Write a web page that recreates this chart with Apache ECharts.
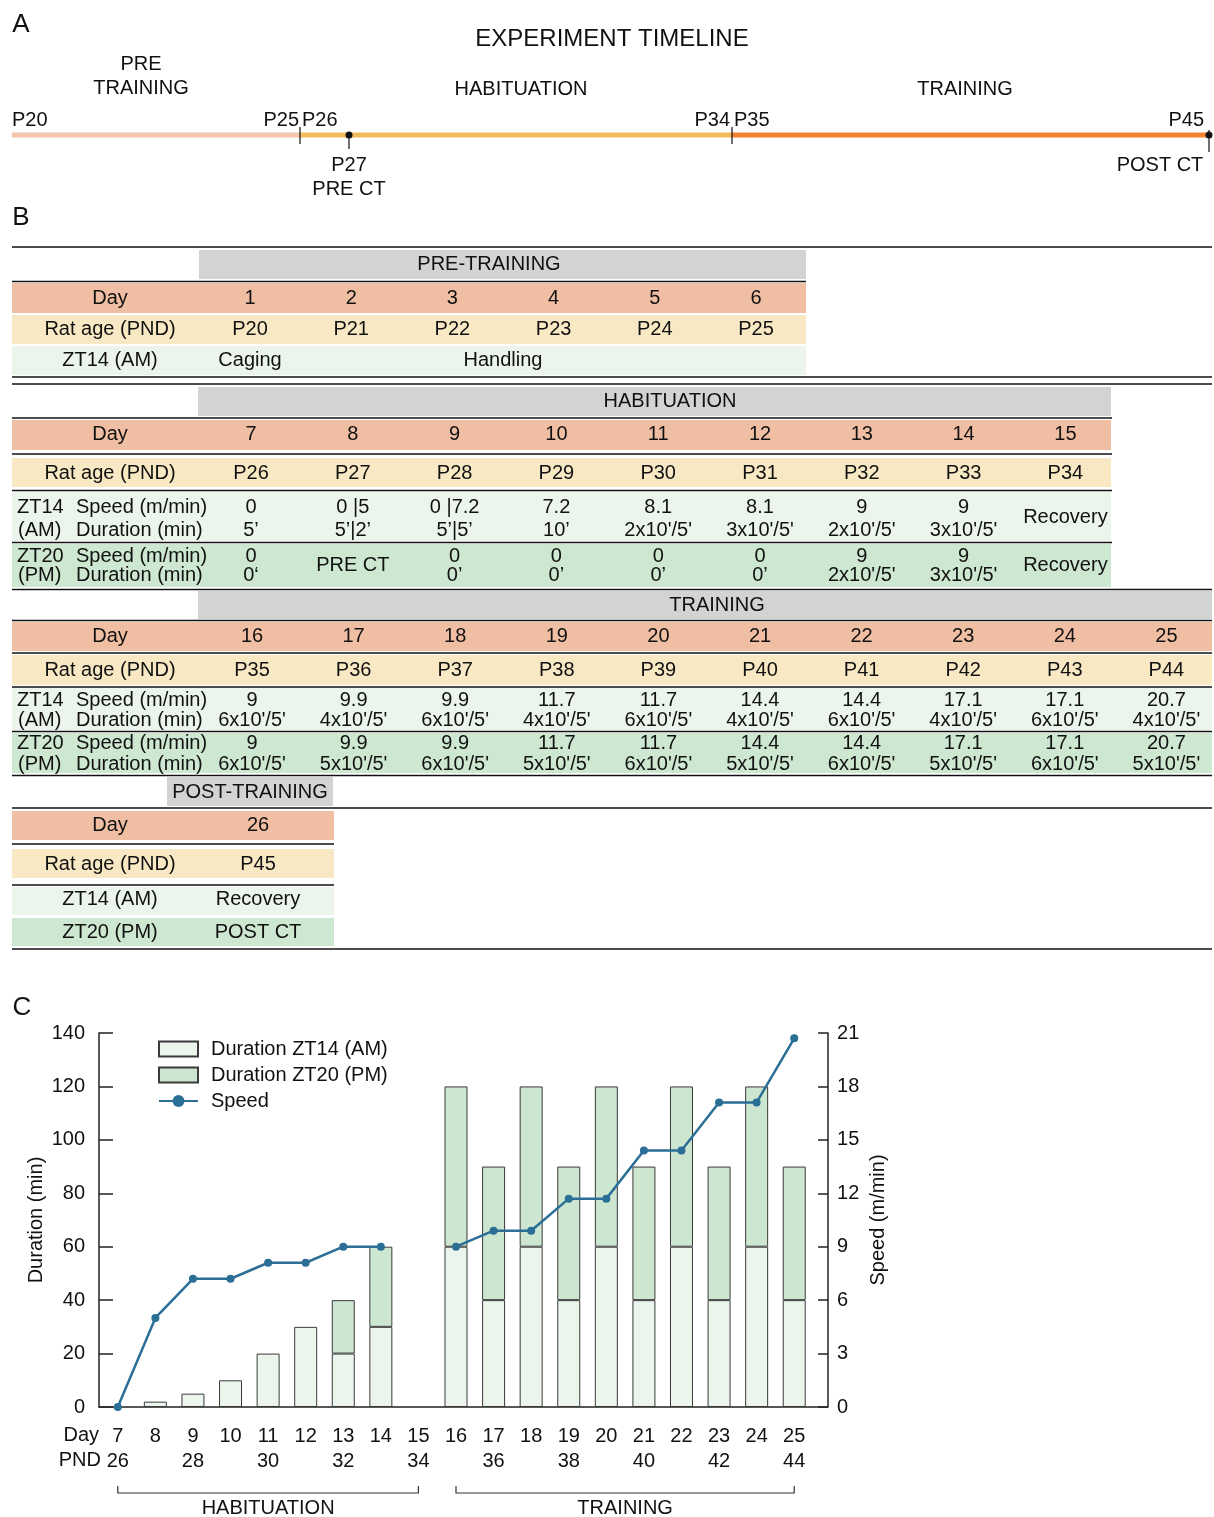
<!DOCTYPE html>
<html>
<head>
<meta charset="utf-8">
<script src="https://cdn.jsdelivr.net/npm/echarts@6/dist/echarts.min.js"></script>
<style>
  html, body { margin: 0; padding: 0; background: #fff; }
  #chart { width: 1214px; height: 1517px; }
</style>
</head>
<body>
<div id="chart"></div>
<script>
// ---- A: timeline ----
const timelineTitle = 'EXPERIMENT TIMELINE';
const timelinePhases = ['PRE\nTRAINING', 'HABITUATION', 'TRAINING'];
const timelineAges = ['P20', 'P25', 'P26', 'P34', 'P35', 'P45'];
const timelineEvents = ['P27\nPRE CT', 'POST CT'];

// ---- B: tables ----
const rowLabels = ['Day', 'Rat age (PND)'];
const preDays = ['1', '2', '3', '4', '5', '6'];
const preAges = ['P20', 'P21', 'P22', 'P23', 'P24', 'P25'];
const preZT14 = ['Caging', 'Handling'];

const habDays = ['7', '8', '9', '10', '11', '12', '13', '14', '15'];
const habAges = ['P26', 'P27', 'P28', 'P29', 'P30', 'P31', 'P32', 'P33', 'P34'];
const habAMSpeed = ['0', '0 |5', '0 |7.2', '7.2', '8.1', '8.1', '9', '9', 'Recovery'];
const habAMDur = ['5\u2019', '5\u2019|2\u2019', '5\u2019|5\u2019', '10\u2019', "2x10'/5'", "3x10'/5'", "2x10'/5'", "3x10'/5'", null];
const habPMSpeed = ['0', 'PRE CT', '0', '0', '0', '0', '9', '9', 'Recovery'];
const habPMDur = ['0\u2018', null, '0\u2019', '0\u2019', '0\u2019', '0\u2019', "2x10'/5'", "3x10'/5'", null];

const trnDays = ['16', '17', '18', '19', '20', '21', '22', '23', '24', '25'];
const trnAges = ['P35', 'P36', 'P37', 'P38', 'P39', 'P40', 'P41', 'P42', 'P43', 'P44'];
const trnSpeed = ['9', '9.9', '9.9', '11.7', '11.7', '14.4', '14.4', '17.1', '17.1', '20.7'];
const trnAMDur = ["6x10'/5'", "4x10'/5'", "6x10'/5'", "4x10'/5'", "6x10'/5'", "4x10'/5'", "6x10'/5'", "4x10'/5'", "6x10'/5'", "4x10'/5'"];
const trnPMDur = ["6x10'/5'", "5x10'/5'", "6x10'/5'", "5x10'/5'", "6x10'/5'", "5x10'/5'", "6x10'/5'", "5x10'/5'", "6x10'/5'", "5x10'/5'"];

const postDay = '26';
const postAge = 'P45';
const postAM = 'Recovery';
const postPM = 'POST CT';

// ---- C: chart ----
const chartDays = ['7', '8', '9', '10', '11', '12', '13', '14', '15', '16', '17', '18', '19', '20', '21', '22', '23', '24', '25'];
const pndLabels = ['26', '', '28', '', '30', '', '32', '', '34', '', '36', '', '38', '', '40', '', '42', '', '44'];
const durAM = [null, 2, 5, 10, 20, 30, 20, 30, null, 60, 40, 60, 40, 60, 40, 60, 40, 60, 40];
const durPM = [null, null, null, null, null, null, 20, 30, null, 60, 50, 60, 50, 60, 50, 60, 50, 60, 50];
const speed = [0, 5, 7.2, 7.2, 8.1, 8.1, 9, 9, null, 9, 9.9, 9.9, 11.7, 11.7, 14.4, 14.4, 17.1, 17.1, 20.7];
const phaseNames = ['HABITUATION', 'TRAINING'];

// ---- layout ----
const FONT = '"Liberation Sans", Arial, Helvetica, sans-serif';
const INK = '#111';
const C_GRAY = '#d2d3d3', C_DAY = '#f0bfa3', C_AGE = '#f8e9c4', C_AM = '#ecf5ec', C_PM = '#cde7d0';
const GRID = { left: 99, top: 1033, height: 374, band: 37.58 };
GRID.width = GRID.band * chartDays.length;

const els = [];
function txt(x, y, s, size = 20, align = 'center') {
  els.push({
    type: 'text', x, y, silent: true, z: 10,
    style: { text: s, font: size + 'px ' + FONT, fill: INK, align, verticalAlign: 'middle', textAlign: align, textVerticalAlign: 'middle', lineHeight: 24 }
  });
}
function box(x0, y0, x1, y1, fill) {
  els.push({ type: 'rect', silent: true, z: 5, shape: { x: x0, y: y0, width: x1 - x0, height: y1 - y0 }, style: { fill } });
}
function seg(x1, y1, x2, y2, stroke = INK, w = 1.5) {
  els.push({ type: 'line', silent: true, z: 8, shape: { x1, y1, x2, y2 }, style: { stroke, lineWidth: w } });
}
function dot(x, y, r) {
  els.push({ type: 'circle', silent: true, z: 9, shape: { cx: x, cy: y, r }, style: { fill: INK } });
}
const col = (x0, step) => i => x0 + step * i;

// letters
txt(21, 25, 'A', 26);
txt(21, 218, 'B', 26);
txt(22, 1008, 'C', 26);

// A timeline
txt(612, 39, timelineTitle, 24);
txt(141, 76, timelinePhases[0], 20);
txt(521, 89, timelinePhases[1], 20);
txt(965, 89, timelinePhases[2], 20);
seg(12, 135, 300, 135, '#f5c6ac', 5);
seg(300, 135, 732, 135, '#f1bb5c', 5);
seg(732, 135, 1209, 135, '#f3812f', 5);
seg(300, 127, 300, 144, INK, 1.2);
seg(732, 127, 732, 144, INK, 1.2);
seg(349, 135, 349, 149, INK, 1.2);
dot(349, 135, 3.5);
seg(1209, 130, 1209, 152, INK, 1.2);
dot(1209, 135, 3.5);
txt(12, 120, timelineAges[0], 20, 'left');
txt(299, 120, timelineAges[1], 20, 'right');
txt(302, 120, timelineAges[2], 20, 'left');
txt(730, 120, timelineAges[3], 20, 'right');
txt(734, 120, timelineAges[4], 20, 'left');
txt(1204, 120, timelineAges[5], 20, 'right');
txt(349, 177, timelineEvents[0], 20);
txt(1160, 165, timelineEvents[1], 20);

// two-line row label (ZT14 / ZT20)
function zLabel(yTop, yBot, zt, ap) {
  txt(17, yTop, zt, 20, 'left');
  txt(76, yTop, 'Speed (m/min)', 20, 'left');
  txt(18, yBot, ap, 20, 'left');
  txt(76, yBot, 'Duration (min)', 20, 'left');
}
function cells(xs, yTop, yBot, yMid, tops, bots) {
  tops.forEach((t, i) => {
    if (bots[i] == null) { txt(xs(i), yMid, t); }
    else { txt(xs(i), yTop, t); txt(xs(i), yBot, bots[i]); }
  });
}

// B pre-training
{
  const xs = col(250, 101.2);
  seg(12, 247, 1212, 247);
  box(199, 250, 806, 279, C_GRAY);
  txt(489, 264, 'PRE-TRAINING');
  seg(12, 281.5, 806, 281.5);
  box(12, 283, 806, 313, C_DAY);
  box(12, 315, 806, 344, C_AGE);
  box(12, 346, 806, 375, C_AM);
  txt(110, 298, rowLabels[0]);
  txt(110, 329, rowLabels[1]);
  txt(110, 360, 'ZT14 (AM)');
  preDays.forEach((d, i) => txt(xs(i), 298, d));
  preAges.forEach((d, i) => txt(xs(i), 329, d));
  txt(xs(0), 360, preZT14[0]);
  txt((xs(1) + xs(4)) / 2, 360, preZT14[1]);
  seg(12, 377, 1212, 377);
  seg(12, 384, 1212, 384);
}

// B habituation
{
  const xs = col(251, 101.8);
  box(198, 387, 1111, 416, C_GRAY);
  txt(670, 401, 'HABITUATION');
  seg(12, 418, 1112, 418);
  box(12, 420, 1111, 450, C_DAY);
  seg(12, 454, 1112, 454);
  box(12, 458, 1111, 487, C_AGE);
  seg(12, 490.5, 1112, 490.5);
  box(12, 492, 1111, 541, C_AM);
  seg(12, 542.5, 1112, 542.5);
  box(12, 544, 1111, 587, C_PM);
  seg(12, 589.5, 1212, 589.5);
  txt(110, 434, rowLabels[0]);
  txt(110, 473, rowLabels[1]);
  habDays.forEach((d, i) => txt(xs(i), 434, d));
  habAges.forEach((d, i) => txt(xs(i), 473, d));
  zLabel(507, 530, 'ZT14', '(AM)');
  zLabel(556, 575, 'ZT20', '(PM)');
  cells(xs, 507, 530, 517, habAMSpeed, habAMDur);
  cells(xs, 556, 575, 565, habPMSpeed, habPMDur);
}

// B training
{
  const xs = col(252, 101.6);
  box(198, 591, 1212, 619, C_GRAY);
  txt(717, 605, 'TRAINING');
  seg(12, 620.5, 1212, 620.5);
  box(12, 622, 1212, 651, C_DAY);
  seg(12, 653, 1212, 653);
  box(12, 655, 1212, 685, C_AGE);
  seg(12, 687, 1212, 687);
  box(12, 688, 1212, 730, C_AM);
  seg(12, 731.5, 1212, 731.5);
  box(12, 733, 1212, 773, C_PM);
  seg(12, 775.5, 1212, 775.5);
  txt(110, 636, rowLabels[0]);
  txt(110, 670, rowLabels[1]);
  trnDays.forEach((d, i) => txt(xs(i), 636, d));
  trnAges.forEach((d, i) => txt(xs(i), 670, d));
  zLabel(700, 720, 'ZT14', '(AM)');
  zLabel(743, 764, 'ZT20', '(PM)');
  cells(xs, 700, 720, 709, trnSpeed, trnAMDur);
  cells(xs, 743, 764, 753, trnSpeed, trnPMDur);
}

// B post-training
{
  box(167, 777, 333, 806, C_GRAY);
  txt(250, 792, 'POST-TRAINING');
  seg(12, 808, 1212, 808);
  box(12, 811, 334, 840, C_DAY);
  seg(12, 844, 334, 844);
  box(12, 849, 334, 878, C_AGE);
  seg(12, 885, 334, 885);
  box(12, 887, 334, 915, C_AM);
  box(12, 918, 334, 946, C_PM);
  seg(12, 949, 1212, 949);
  txt(110, 825, rowLabels[0]);
  txt(110, 864, rowLabels[1]);
  txt(110, 899, 'ZT14 (AM)');
  txt(110, 932, 'ZT20 (PM)');
  txt(258, 825, postDay);
  txt(258, 864, postAge);
  txt(258, 899, postAM);
  txt(258, 932, postPM);
}

// C: axis extras (Day / PND prefixes, x-axis line to the right axis, phase brackets)
const catX = i => GRID.left + GRID.band * (i + 0.5);
const axisY = GRID.top + GRID.height;
txt(99, 1435, 'Day', 20, 'right');
txt(101, 1460, 'PND', 20, 'right');
seg(GRID.left + GRID.width, axisY, GRID.left + GRID.width + 15, axisY, '#222', 1.5);
[[0, 8], [9, 18]].forEach(([a, b], k) => {
  els.push({
    type: 'polyline', silent: true, z: 8,
    shape: { points: [[catX(a), 1486], [catX(a), 1493], [catX(b), 1493], [catX(b), 1486]] },
    style: { stroke: '#333', lineWidth: 1.2, fill: null }
  });
  txt((catX(a) + catX(b)) / 2, 1508, phaseNames[k]);
});

const axisText = { color: INK, fontSize: 20, fontFamily: FONT };
const axisLine = { show: true, lineStyle: { color: '#222', width: 1.5 } };
const barBorder = { borderColor: '#3a3a3a', borderWidth: 1 };

const chart = echarts.init(document.getElementById('chart'), null, { renderer: 'canvas' });
chart.setOption({
  animation: false,
  backgroundColor: '#fff',
  textStyle: { fontFamily: FONT },
  grid: { left: GRID.left, top: GRID.top, width: GRID.width, height: GRID.height, containLabel: false },
  legend: {
    orient: 'vertical', left: 158, top: 1039, padding: 0,
    itemWidth: 39, itemHeight: 15, itemGap: 6,
    selectedMode: false,
    textStyle: { color: INK, fontSize: 20, lineHeight: 20, fontFamily: FONT, padding: [0, 0, 0, 8] },
    data: [
      { name: 'Duration ZT14 (AM)', icon: 'rect' },
      { name: 'Duration ZT20 (PM)', icon: 'rect' },
      { name: 'Speed' }
    ]
  },
  xAxis: {
    type: 'category', data: chartDays,
    axisLine,
    axisTick: { alignWithLabel: true, length: 12, lineStyle: { color: '#222', width: 1.5 } },
    axisLabel: {
      ...axisText, interval: 0, margin: 17, lineHeight: 25,
      formatter: (v, i) => v + '\n' + (pndLabels[i] || ' ')
    }
  },
  yAxis: [
    {
      type: 'value', min: 0, max: 140, interval: 20,
      name: 'Duration (min)', nameLocation: 'middle', nameGap: 53, nameRotate: 90,
      nameMoveOverlap: false,
      nameTextStyle: axisText,
      axisLine, axisTick: { show: true, inside: true, length: 14, lineStyle: { color: '#222', width: 1.5 } },
      axisLabel: { ...axisText, margin: 14 },
      splitLine: { show: false }
    },
    {
      type: 'value', min: 0, max: 21, interval: 3, position: 'right', offset: 15,
      name: 'Speed (m/min)', nameLocation: 'middle', nameGap: 40, nameRotate: 90,
      nameMoveOverlap: false,
      nameTextStyle: axisText,
      axisLine, axisTick: { show: true, inside: true, length: 10, lineStyle: { color: '#222', width: 1.5 } },
      axisLabel: { ...axisText, margin: 9 },
      splitLine: { show: false }
    }
  ],
  series: [
    { name: 'Duration ZT14 (AM)', type: 'bar', stack: 'dur', barWidth: 23, data: durAM,
      itemStyle: { color: '#ebf5ec', ...barBorder } },
    { name: 'Duration ZT20 (PM)', type: 'bar', stack: 'dur', barWidth: 23, data: durPM,
      itemStyle: { color: '#cde6d0', ...barBorder } },
    { name: 'Speed', type: 'line', yAxisIndex: 1, data: speed, connectNulls: false,
      symbol: 'circle', symbolSize: 8, z: 5,
      lineStyle: { color: '#2b6f96', width: 2.5 }, itemStyle: { color: '#2b6f96' } }
  ],
  graphic: { elements: els }
});
</script>
</body>
</html>
